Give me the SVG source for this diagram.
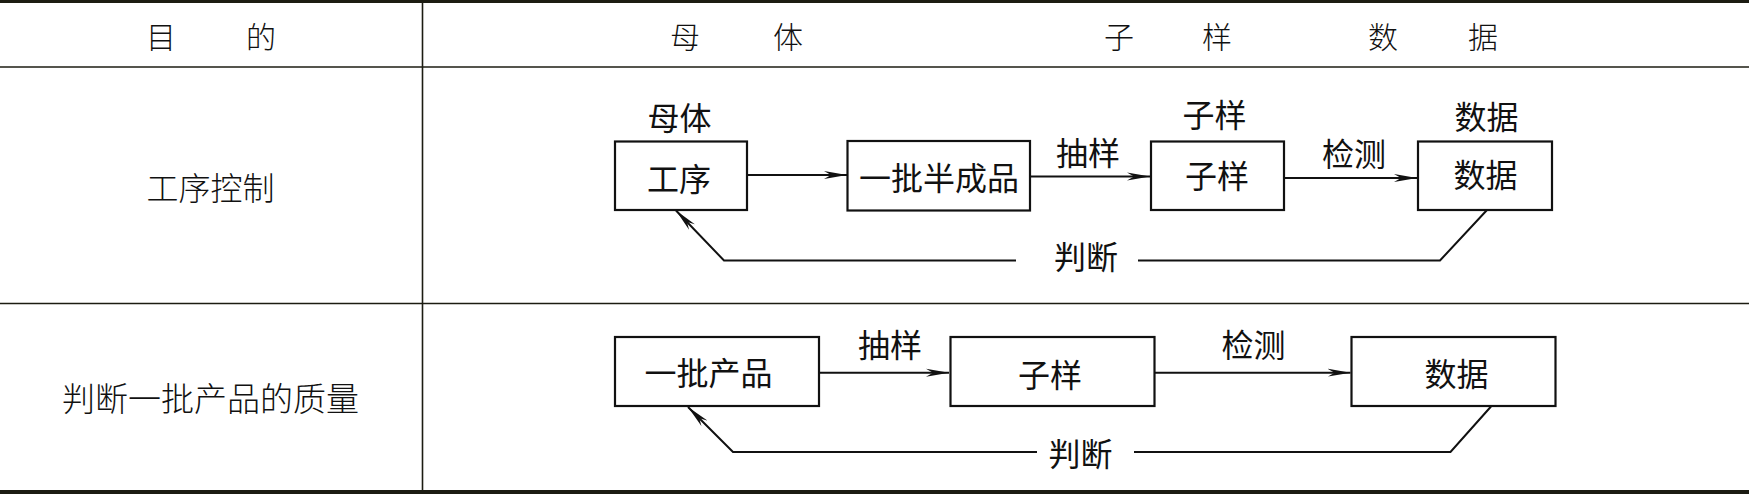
<svg xmlns="http://www.w3.org/2000/svg" width="1749" height="494" viewBox="0 0 1749 494">
<style>
text{font-family:"Noto Sans CJK SC","Noto Sans CJK JP",sans-serif;fill:#111;dominant-baseline:central;text-anchor:middle}
.hd{font-size:30px;font-weight:300}
.tb{font-size:32px;font-weight:300}
.lb{font-size:32px}
.box{fill:#fff;stroke:#111;stroke-width:2.2}
.grid{stroke:#1c1c12;stroke-width:1.6;fill:none}
.conn{stroke:#111;stroke-width:2;fill:none}
</style>
<defs>
<marker id="arr" markerUnits="userSpaceOnUse" viewBox="0 0 24 9" markerWidth="24" markerHeight="9" refX="23" refY="4.5" orient="auto">
<path d="M0,0.5 L23,4.5 L0,8.5 L7,4.5 Z" fill="#111"/>
</marker>
</defs>
<rect x="0" y="0" width="1749" height="494" fill="#fff"/>
<g id="table">
<line x1="0" y1="1.5" x2="1749" y2="1.5" stroke="#1c1c12" stroke-width="3"/>
<line x1="0" y1="67" x2="1749" y2="67" class="grid"/>
<line x1="0" y1="303.5" x2="1749" y2="303.5" class="grid"/>
<line x1="0" y1="492" x2="1749" y2="492" stroke="#1c1c12" stroke-width="4"/>
<line x1="422.5" y1="3" x2="422.5" y2="490" class="grid"/>
<text class="hd" x="161 261" y="35">目的</text>
<text class="hd" x="685 788" y="35">母体</text>
<text class="hd" x="1119 1217" y="35">子样</text>
<text class="hd" x="1383 1483" y="35">数据</text>
<text class="tb" x="210.5" y="186">工序控制</text>
<text class="tb" x="210.5" y="397" style="font-size:33px">判断一批产品的质量</text>
</g>
<g id="connectors">
<line class="conn" x1="747" y1="175" x2="847" y2="175" marker-end="url(#arr)"/>
<line class="conn" x1="1030" y1="176.5" x2="1150" y2="176.5" marker-end="url(#arr)"/>
<line class="conn" x1="1284" y1="178" x2="1417" y2="178" marker-end="url(#arr)"/>
<path class="conn" d="M1487,210 L1440,260.5 L1138,260.5 M1016,260.5 L724,260.5 L676,210.5" marker-end="url(#arr)"/>
<line class="conn" x1="819" y1="372.7" x2="949" y2="372.7" marker-end="url(#arr)"/>
<line class="conn" x1="1154.5" y1="372.7" x2="1350.5" y2="372.7" marker-end="url(#arr)"/>
<path class="conn" d="M1491,406.5 L1450.5,452 L1134,452 M1037,452 L733,452 L688,407" marker-end="url(#arr)"/>
<text class="lb" x="1088" y="151">抽样</text>
<text class="lb" x="1354" y="151.5">检测</text>
<text class="lb" x="1086" y="255">判断</text>
<text class="lb" x="890" y="342.5">抽样</text>
<text class="lb" x="1253.5" y="342.5">检测</text>
<text class="lb" x="1080.5" y="452">判断</text>
</g>
<g id="n-gongxu">
<rect class="box" x="615" y="141.5" width="132" height="68.5"/>
<text class="lb" x="679.5" y="116">母体</text>
<text class="lb" x="679" y="177">工序</text>
</g>
<g id="n-banchengpin">
<rect class="box" x="847.5" y="141" width="182.5" height="69.5"/>
<text class="lb" x="939" y="176">一批半成品</text>
</g>
<g id="n-ziyang1">
<rect class="box" x="1151" y="141.5" width="133" height="68.5"/>
<text class="lb" x="1214.5" y="112.5">子样</text>
<text class="lb" x="1217" y="174">子样</text>
</g>
<g id="n-shuju1">
<rect class="box" x="1418" y="141.5" width="134" height="68.5"/>
<text class="lb" x="1486.5" y="115">数据</text>
<text class="lb" x="1485.5" y="173">数据</text>
</g>
<g id="n-chanpin">
<rect class="box" x="615" y="337" width="204" height="69"/>
<text class="lb" x="708.5" y="371">一批产品</text>
</g>
<g id="n-ziyang2">
<rect class="box" x="950.5" y="337" width="204" height="69"/>
<text class="lb" x="1050" y="373">子样</text>
</g>
<g id="n-shuju2">
<rect class="box" x="1351.5" y="337" width="204" height="69"/>
<text class="lb" x="1456.5" y="372">数据</text>
</g>
</svg>
